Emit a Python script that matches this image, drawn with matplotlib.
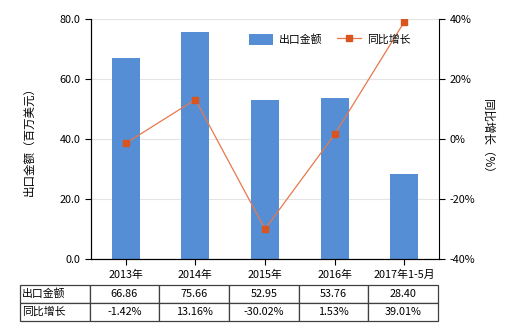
import numpy as np
import matplotlib
matplotlib.use('Agg')
import matplotlib.pyplot as plt
from matplotlib.ticker import FuncFormatter

plt.rcParams['font.family'] = ['Noto Sans CJK SC', 'DejaVu Sans']

categories = ['2013年', '2014年', '2015年', '2016年', '2017年1-5月']
export_value = [66.86, 75.66, 52.95, 53.76, 28.40]
yoy_growth = [-1.42, 13.16, -30.02, 1.53, 39.01]
row_names = ['出口金额', '同比增长']

bar_color = '#558ED5'
line_color = '#E8784A'
marker_color = '#D9541E'
fs = 7.8

fig = plt.figure(figsize=(5.2, 3.3), dpi=100)
ax = fig.add_axes([91/520, 1-259/330, 348/520, 240/330])
x = np.arange(len(categories))
ax.bar(x, export_value, width=0.4, color=bar_color, zorder=2, label='出口金额')
ax.set_xlim(-0.5, len(categories)-0.5)
ax.set_ylim(0, 80)
ax.set_yticks([0, 20, 40, 60, 80])
ax.yaxis.set_major_formatter(FuncFormatter(lambda v, p: '%.1f' % v))
ax.grid(axis='y', color='#E3E3E3', linewidth=0.8, zorder=0)
ax.set_xticks(x)
ax.set_xticklabels(categories, fontsize=fs)
ax.tick_params(axis='y', labelsize=fs, length=4, width=0.8)
ax.tick_params(axis='x', length=4, width=0.8, pad=4)
ax.spines['top'].set_visible(False)
ax.spines['right'].set_visible(False)
ax.set_ylabel('出口金额（百万美元）', fontsize=fs+0.5, labelpad=17)

ax2 = ax.twinx()
ax2.plot(x, yoy_growth, color=line_color, linewidth=0.9, marker='s', markersize=4,
         markerfacecolor=marker_color, markeredgecolor=marker_color, zorder=3, label='同比增长')
ax2.set_ylim(-40, 40)
ax2.set_yticks([-40, -20, 0, 20, 40])
ax2.yaxis.set_major_formatter(FuncFormatter(lambda v, p: '%d%%' % v))
ax2.tick_params(axis='y', labelsize=fs, length=4, width=0.8)
ax2.spines['top'].set_visible(False)
ax2.set_ylabel('同比增长（%）', fontsize=fs+0.5, rotation=270, labelpad=14)

h1, l1 = ax.get_legend_handles_labels()
h2, l2 = ax2.get_legend_handles_labels()
ax2.legend(h1 + h2, l1 + l2, loc='upper right', bbox_to_anchor=(0.945, 0.98), ncol=2,
           frameon=False, fontsize=fs, handlelength=2.2, handleheight=1.3,
           columnspacing=1.4, handletextpad=0.5)

# data table under the chart
tax = fig.add_axes([20/520, 1-321/330, 418/520, 36/330])
tax.axis('off')
cells = [[row_names[0]] + ['%.2f' % v for v in export_value],
         [row_names[1]] + ['%.2f%%' % v for v in yoy_growth]]
tbl = tax.table(cellText=cells, bbox=[0, 0, 1, 1], cellLoc='center')
tbl.auto_set_font_size(False)
tbl.set_fontsize(fs)
for (r, c), cell in tbl.get_celld().items():
    cell.set_edgecolor('#404040')
    cell.set_linewidth(0.9)
    if c == 0:
        cell.set_text_props(ha='left')
        cell.PAD = 0.03

fig.savefig('out.png', dpi=100)
